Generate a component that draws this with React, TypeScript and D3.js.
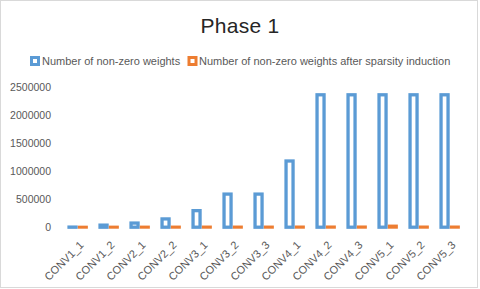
import React, { useEffect, useRef } from 'react';
import * as d3 from 'd3';

const categories = [
  'CONV1_1', 'CONV1_2', 'CONV2_1', 'CONV2_2', 'CONV3_1', 'CONV3_2', 'CONV3_3',
  'CONV4_1', 'CONV4_2', 'CONV4_3', 'CONV5_1', 'CONV5_2', 'CONV5_3',
];
const nonZero = [
  1728, 36864, 73728, 147456, 294912, 589824, 589824,
  1179648, 2359296, 2359296, 2359296, 2359296, 2359296,
];
const afterSparsity = [
  600, 1500, 2000, 2500, 3000, 3000, 3000,
  3500, 4000, 4000, 20000, 3500, 3500,
];
const yTicks = [0, 500000, 1000000, 1500000, 2000000, 2500000];
const seriesNames = [
  'Number of non-zero weights',
  'Number of non-zero weights after sparsity induction',
];
const colors = ['#5B9BD5', '#ED7D31'];

const W = 480;
const H = 289;

export default function App() {
  const svgRef = useRef<SVGSVGElement>(null);

  useEffect(() => {
    if (!svgRef.current) return;
    const svg = d3.select(svgRef.current);
    svg.selectAll('*').remove();

    const font = '"Liberation Sans", Arial, sans-serif';
    const textColor = '#595959';

    // chart border
    svg.append('rect')
      .attr('x', 0.5).attr('y', 0.5)
      .attr('width', 477).attr('height', 287)
      .attr('fill', '#fff')
      .attr('stroke', '#d9d9d9');

    // title
    svg.append('text')
      .attr('x', 240).attr('y', 33)
      .attr('text-anchor', 'middle')
      .attr('font-family', font)
      .attr('font-size', 21)
      .attr('letter-spacing', 0.3)
      .attr('fill', '#262626')
      .text('Phase 1');

    // legend
    const legendItems = [
      { x: 30, tx: 42 },
      { x: 187.5, tx: 199 },
    ];
    legendItems.forEach((it, i) => {
      svg.append('rect')
        .attr('x', it.x + 1.5).attr('y', 57.5)
        .attr('width', 7).attr('height', 7)
        .attr('fill', '#fff')
        .attr('stroke', colors[i])
        .attr('stroke-width', 3);
      svg.append('text')
        .attr('x', it.tx).attr('y', 61)
        .attr('dy', '0.35em')
        .attr('font-family', font)
        .attr('font-size', 11)
        .attr('fill', textColor)
        .text(seriesNames[i]);
    });

    const x0 = d3.scaleBand<string>()
      .domain(categories)
      .range([62.2, 465.2])
      .paddingInner(0.335)
      .paddingOuter(0.1675);

    const x1 = d3.scaleBand<number>()
      .domain([0, 1])
      .range([0, x0.bandwidth()]);

    const y = d3.scaleLinear()
      .domain([0, 2500000])
      .range([227.2, 86.9]);

    // y tick labels
    svg.append('g')
      .selectAll('text')
      .data(yTicks)
      .enter()
      .append('text')
      .attr('x', 51)
      .attr('y', d => y(d))
      .attr('dy', '0.35em')
      .attr('text-anchor', 'end')
      .attr('font-family', font)
      .attr('font-size', 10.5)
      .attr('fill', textColor)
      .text(d => String(d));

    const sw = 3;
    const series = [nonZero, afterSparsity];
    series.forEach((vals, si) => {
      svg.append('g')
        .selectAll('rect')
        .data(vals)
        .enter()
        .append('rect')
        .attr('x', (_, i) => (x0(categories[i]) ?? 0) + (x1(si) ?? 0) + 1.65)
        .attr('width', x1.bandwidth() - 3.3)
        .attr('y', d => y(d))
        .attr('height', d => y(0) - y(d))
        .attr('fill', '#fff')
        .attr('stroke', colors[si])
        .attr('stroke-width', si === 0 ? 3.3 : sw);
    });

    // x labels, rotated
    svg.append('g')
      .selectAll('text')
      .data(categories)
      .enter()
      .append('text')
      .attr('transform', d => {
        const cx = (x0(d) ?? 0) + x0.bandwidth() / 2;
        return `translate(${cx + 4},${243}) rotate(-45)`;
      })
      .attr('dy', '0.35em')
      .attr('text-anchor', 'end')
      .attr('font-family', font)
      .attr('font-size', 11)
      .attr('fill', textColor)
      .text(d => d);
  }, []);

  return (
    <div style={{ position: 'absolute', left: 0, top: 0 }}>
      <svg ref={svgRef} width={W} height={H} style={{ display: 'block' }} />
    </div>
  );
}
